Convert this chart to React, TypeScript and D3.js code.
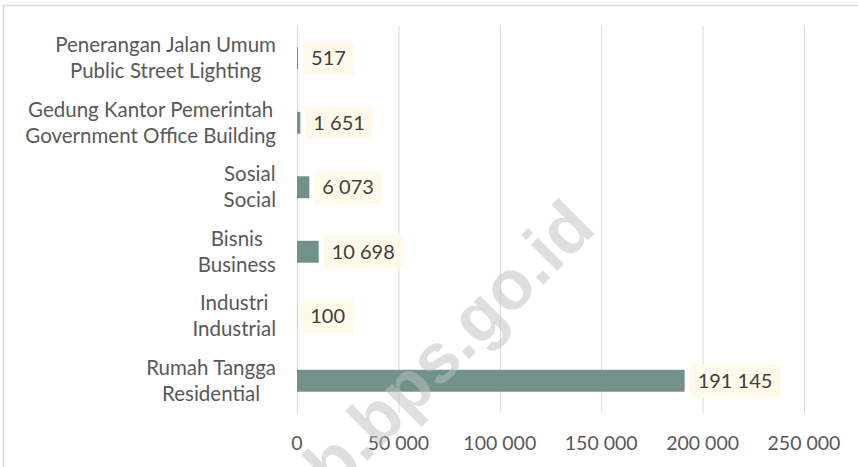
import React, { useRef, useEffect } from "react";
import * as d3 from "d3";

// categories, top to bottom (each has Indonesian / English line)
const labelsId = ["Penerangan Jalan Umum", "Gedung Kantor Pemerintah", "Sosial", "Bisnis", "Industri", "Rumah Tangga"];
const labelsEn = ["Public Street Lighting", "Government Office Building", "Social", "Business", "Industrial", "Residential"];
const values = [517, 1651, 6073, 10698, 100, 191145];
const xTicks = [0, 50000, 100000, 150000, 200000, 250000];

const W = 858;
const H = 467;

const fmt = (v: number) => d3.format(",")(v).replace(/,/g, " ");

const App = () => {
  const svgRef = useRef<SVGSVGElement>(null);

  useEffect(() => {
    document.body.style.margin = "0";
    const svg = d3.select(svgRef.current);
    svg.selectAll("*").remove();

    const margin = { top: 26, right: 54, bottom: 54, left: 297 };
    const font = "Lato, sans-serif";

    const x = d3.scaleLinear().domain([0, 250000]).range([margin.left, W - margin.right]);
    const y = d3
      .scaleBand()
      .domain(labelsId)
      .range([margin.top, H - margin.bottom])
      .paddingInner(0.66)
      .paddingOuter(0.33);

    // chart frame
    svg
      .append("rect")
      .attr("x", 3.5)
      .attr("y", 5.5)
      .attr("width", W + 10)
      .attr("height", H + 10)
      .attr("fill", "#fff")
      .attr("stroke", "#d9d9d9")
      .attr("stroke-width", 1.5);

    // gridlines
    svg
      .append("g")
      .selectAll("line")
      .data(xTicks)
      .join("line")
      .attr("x1", (d) => x(d) + 0.5)
      .attr("x2", (d) => x(d) + 0.5)
      .attr("y1", margin.top)
      .attr("y2", H - margin.bottom)
      .attr("stroke", "#d9d9d9");

    // x tick labels
    svg
      .append("g")
      .selectAll("text")
      .data(xTicks)
      .join("text")
      .attr("x", (d) => x(d))
      .attr("y", 450)
      .attr("text-anchor", "middle")
      .attr("font-family", font)
      .attr("font-size", 19.5)
      .attr("fill", "#595959")
      .text((d) => fmt(d));

    // bars
    svg
      .append("g")
      .selectAll("rect")
      .data(values)
      .join("rect")
      .attr("x", x(0))
      .attr("y", (d, i) => y(labelsId[i])!)
      .attr("width", (d) => x(d) - x(0))
      .attr("height", y.bandwidth())
      .attr("fill", "#71918a");

    // category labels: block right aligned, lines centred in block
    const cats = svg.append("g");
    labelsId.forEach((id, i) => {
      const cy = y(id)! + y.bandwidth() / 2;
      const g = cats.append("g");
      const lines = [id, labelsEn[i]].map((t, k) =>
        g
          .append("text")
          .attr("y", cy - 13 + k * 26 + 7)
          .attr("text-anchor", "middle")
          .attr("font-family", font)
          .attr("font-size", 20.5)
          .attr("fill", "#595959")
          .text(t)
      );
      const wMax = d3.max(lines, (l) => (l.node() as SVGTextElement).getComputedTextLength())!;
      lines.forEach((l) => l.attr("x", 276 - wMax / 2));
    });

    // value labels with cream boxes
    const vals = svg.append("g");
    values.forEach((v, i) => {
      const cy = y(labelsId[i])! + y.bandwidth() / 2;
      const x0 = x(v) + 5;
      const box = vals.append("rect").attr("fill", "#fef9e8");
      const t = vals
        .append("text")
        .attr("x", x0 + 8)
        .attr("y", cy + 7)
        .attr("font-family", font)
        .attr("font-size", 20)
        .attr("fill", "#404040")
        .text(fmt(v));
      const tw = (t.node() as SVGTextElement).getComputedTextLength();
      box
        .attr("x", x0)
        .attr("y", cy - 16.5)
        .attr("width", tw + 16)
        .attr("height", 33);
    });

    // watermark
    svg
      .append("text")
      .attr("transform", "translate(287,541) rotate(-45)")
      .attr("font-family", "'Liberation Sans', sans-serif")
      .attr("font-weight", "bold")
      .attr("font-size", 70)
      .attr("fill", "#bfbfbf")
      .attr("opacity", 0.5)
      .text("ntb.bps.go.id");
  }, []);

  return <svg ref={svgRef} width={W} height={H} style={{ display: "block" }}></svg>;
};

export default App;
